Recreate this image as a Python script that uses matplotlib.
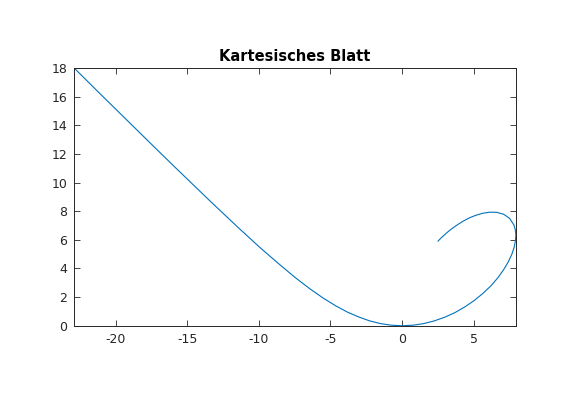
import matplotlib.pyplot as plt

# points (left branch, through origin, loop)
x = [-22.90, -21.25, -19.46, -17.23, -15.98, -13.44, -11.48, -9.90, -8.57,
     -7.43, -6.41, -5.49, -4.63, -3.81, -3.02, -2.26, -1.50, -0.75, 0.0,
     0.75, 1.50, 2.24, 2.98, 3.69, 4.38, 5.03, 5.64, 6.19, 6.67, 7.07,
     7.40, 7.65, 7.82, 7.91, 7.94, 7.90, 7.81, 7.50, 7.08, 6.60, 6.10,
     5.61, 5.14, 4.71, 4.31, 3.95, 3.63, 3.33, 3.07, 2.83, 2.62, 2.51]
y = [18.00, 16.36, 14.60, 12.41, 11.19, 8.74, 6.89, 5.44, 4.29,
     3.34, 2.56, 1.92, 1.39, 0.95, 0.61, 0.34, 0.15, 0.04, 0.0,
     0.04, 0.15, 0.34, 0.60, 0.92, 1.32, 1.76, 2.26, 2.78, 3.33, 3.89,
     4.44, 4.97, 5.47, 5.93, 6.35, 6.71, 7.03, 7.50, 7.79, 7.92, 7.93,
     7.85, 7.71, 7.54, 7.33, 7.11, 6.89, 6.67, 6.45, 6.23, 6.03, 5.91]

xticks = [-20, -15, -10, -5, 0, 5]
yticks = [0, 2, 4, 6, 8, 10, 12, 14, 16, 18]

plt.rcParams['font.family'] = 'DejaVu Sans'
plt.rcParams['axes.unicode_minus'] = False
fig = plt.figure(figsize=(5.7, 4.08), dpi=100)
ax = fig.add_axes([0.13, 0.11, 0.775, 0.815])

ax.plot(x, y, color='#0072BD', linewidth=0.8)
ax.set_xlim(min(x), max(x))
ax.set_ylim(0, 18)
ax.set_aspect('equal', adjustable='box')
ax.set_xticks(xticks)
ax.set_yticks(yticks)

grey = '#262626'
ax.tick_params(direction='in', length=4, width=0.6, top=True, right=True,
               labelsize=9, colors=grey, pad=5)
for s in ax.spines.values():
    s.set_color(grey)
    s.set_linewidth(0.7)

ax.set_title('Kartesisches Blatt', fontsize=10.5, fontweight='bold',
             color='black', pad=5)

fig.savefig('out.png', dpi=100)
